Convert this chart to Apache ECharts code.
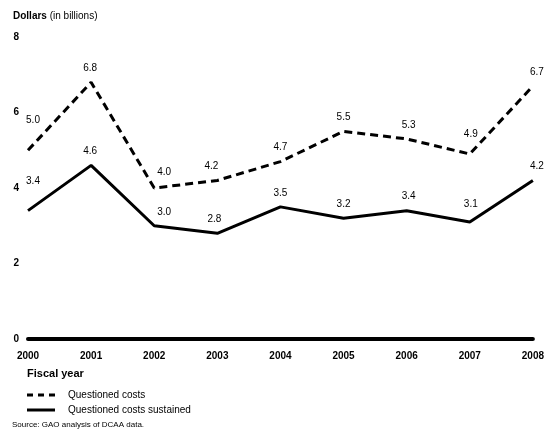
<!DOCTYPE html>
<html>
<head>
<meta charset="utf-8">
<script src="https://cdn.jsdelivr.net/npm/echarts@6/dist/echarts.min.js"></script>
<style>html,body{margin:0;padding:0;background:#fff}#c{width:547px;height:438px}</style>
</head>
<body>
<div id="c"></div>
<script>
var years = ['2000','2001','2002','2003','2004','2005','2006','2007','2008'];
var questionedCosts = [5.0, 6.8, 4.0, 4.2, 4.7, 5.5, 5.3, 4.9, 6.7];
var questionedSustained = [3.4, 4.6, 3.0, 2.8, 3.5, 3.2, 3.4, 3.1, 4.2];
var yTicks = [0, 2, 4, 6, 8];

// label nudges (style only)
var costsLabelOffsets = [[5,-16],[-1,0],[10,-2],[-6,0],[0,0],[0,0],[2,0],[1,-6],[4,0]];
var sustainedLabelOffsets = [[5,-15],[-1,0],[10,0],[-3,0],[0,0],[0,0],[2,0],[1,-4],[4,0]];

var FONT = '"Liberation Sans", Arial, sans-serif';
var chart = echarts.init(document.getElementById('c'));
function labelCfg(){
  return {show: true, position: 'top', distance: 8, fontSize: 10, color: '#000', opacity: 1, fontFamily: FONT,
    formatter: function(p){return p.value.toFixed(1);}};
}
function buildData(values, offsets){
  return values.map(function(v, i){
    return {value: v, label: {offset: offsets[i]}};
  });
}
chart.setOption({
  backgroundColor: '#fff',
  animation: false,
  textStyle: {fontFamily: FONT, color: '#000'},
  title: [
    {text: '{b|Dollars} (in billions)', left: 8, top: 6,
     textStyle: {fontSize: 10, fontWeight: 'normal', color: '#000', fontFamily: FONT,
       rich: {b: {fontWeight: 'bold', fontSize: 10, fontFamily: FONT, color: '#000'}}}},
    {text: 'Fiscal year', left: 22, top: 363,
     textStyle: {fontSize: 11, fontWeight: 'bold', color: '#000', fontFamily: FONT}},
    {text: 'Source: GAO analysis of DCAA data.', left: 7, top: 416,
     textStyle: {fontSize: 8, fontWeight: 'normal', color: '#000', fontFamily: FONT}}
  ],
  legend: {
    orient: 'vertical', left: 22, top: 385, itemWidth: 28, itemHeight: 3, itemGap: 5,
    textStyle: {fontSize: 10, color: '#000', fontFamily: FONT, padding: [0,0,0,8]},
    data: [
      {name: 'Questioned costs', icon: 'path://M0,0h6v3h-6z M11,0h6v3h-6z M22,0h6v3h-6z', itemStyle: {color: '#000', opacity: 1}},
      {name: 'Questioned costs sustained', icon: 'path://M0,0h28v3h-28z', itemStyle: {color: '#000', opacity: 1}}
    ]
  },
  grid: {left: 28, right: 9, top: 37, bottom: 99},
  xAxis: {
    type: 'category', data: years, boundaryGap: false,
    axisLine: {lineStyle: {color: '#000', width: 4}},
    axisTick: {show: false},
    axisLabel: {fontSize: 10, fontWeight: 'bold', color: '#000', margin: 12, fontFamily: FONT},
    splitLine: {show: false}
  },
  yAxis: {
    type: 'value', min: yTicks[0], max: yTicks[yTicks.length-1], interval: 2,
    axisLine: {show: false}, axisTick: {show: false}, splitLine: {show: false},
    axisLabel: {fontSize: 10, fontWeight: 'bold', color: '#000', margin: 9, fontFamily: FONT}
  },
  series: [
    {name: 'Questioned costs', type: 'line', data: buildData(questionedCosts, costsLabelOffsets),
     symbol: 'circle', symbolSize: 2, showSymbol: true,
     lineStyle: {color: '#000', width: 3, type: [8, 5]}, itemStyle: {color: 'rgba(0,0,0,0)', borderWidth: 0},
     label: labelCfg()},
    {name: 'Questioned costs sustained', type: 'line', data: buildData(questionedSustained, sustainedLabelOffsets),
     symbol: 'circle', symbolSize: 2, showSymbol: true,
     lineStyle: {color: '#000', width: 3}, itemStyle: {color: 'rgba(0,0,0,0)', borderWidth: 0},
     label: labelCfg()}
  ]
});
</script>
</body>
</html>
